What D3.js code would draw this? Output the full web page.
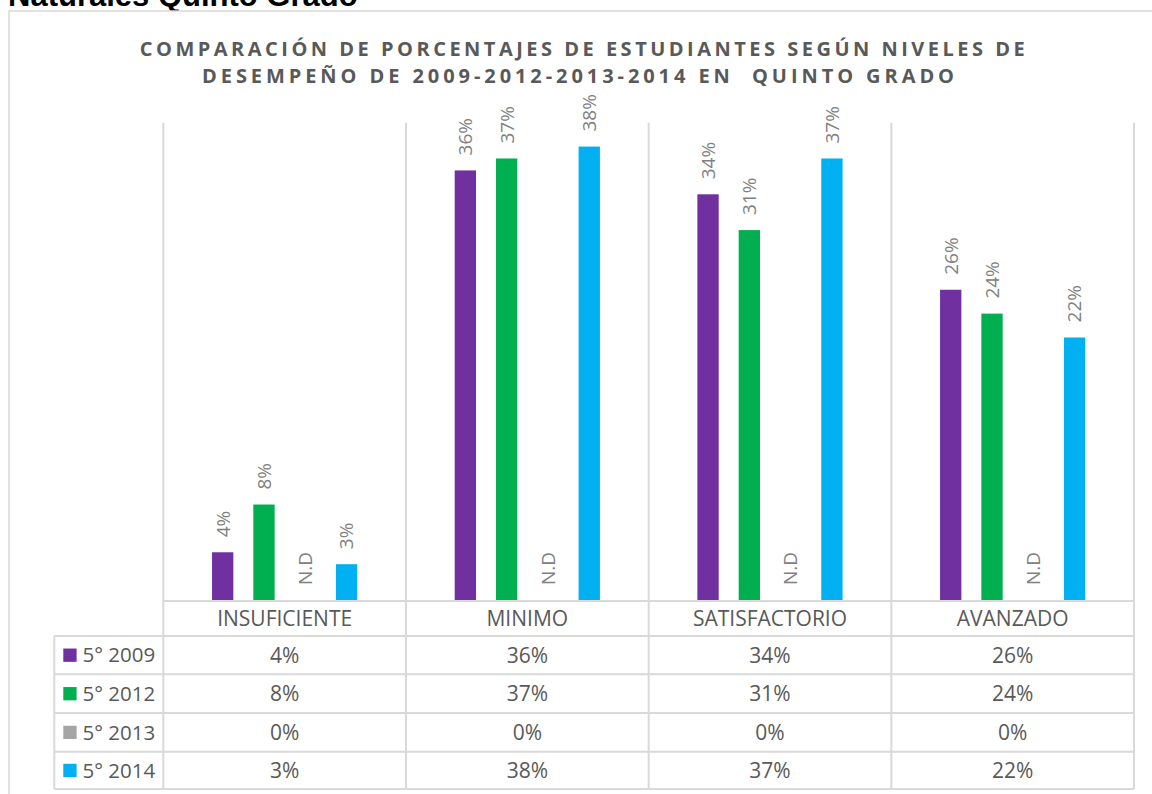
<!DOCTYPE html>
<html>
<head>
<meta charset="utf-8">
<script src="https://cdn.jsdelivr.net/npm/d3@7"></script>
<style>
  body { margin: 0; background: #fff; }
  svg { display: block; }
  text { font-family: "Open Sans", sans-serif; }
</style>
</head>
<body>
<svg id="chart" width="1152" height="794"></svg>
<script>
const categories = ["INSUFICIENTE", "MINIMO", "SATISFACTORIO", "AVANZADO"];
const series = ["5° 2009", "5° 2012", "5° 2013", "5° 2014"];
const v2009 = [0.04, 0.36, 0.34, 0.26];
const v2012 = [0.08, 0.37, 0.31, 0.24];
const v2013 = [0, 0, 0, 0];
const v2014 = [0.03, 0.38, 0.37, 0.22];
const colors = ["#7030A0", "#00B050", "#A5A5A5", "#00B0F0"];
const titleLines = [
  "COMPARACIÓN DE PORCENTAJES DE ESTUDIANTES SEGÚN NIVELES DE",
  "DESEMPEÑO DE 2009-2012-2013-2014 EN  QUINTO GRADO"
];
const pageTitle = "Naturales Quinto Grado";

const values = [v2009, v2012, v2013, v2014];
const fmt = d3.format(".0%");
const grid = "#d9d9d9";

const svg = d3.select("#chart");

// heading cut off at the top of the page
svg.append("text")
  .attr("x", 8)
  .attr("y", 6)
  .style("font-family", "'Liberation Sans', Arial, sans-serif")
  .style("font-weight", "bold")
  .style("font-size", "31px")
  .attr("fill", "#000")
  .text(pageTitle);

// chart frame (continues past the right and bottom edges)
svg.append("rect")
  .attr("x", 9)
  .attr("y", 11)
  .attr("width", 1200)
  .attr("height", 850)
  .attr("fill", "#fff")
  .attr("stroke", grid)
  .attr("stroke-width", 1.5);

// title, each line spaced out to the reference width
const titleY = [56, 83];
const titleX = [584, 580];
const titleW = [885, 752];
titleLines.forEach((line, i) => {
  let t = svg.append("text")
    .attr("x", titleX[i])
    .attr("y", titleY[i])
    .attr("text-anchor", "middle")
    .style("font-weight", "bold")
    .style("font-size", "20px")
    .style("white-space", "pre")
    .attr("fill", "#595959")
    .text(line);
  let w = t.node().getComputedTextLength();
  t.style("letter-spacing", ((titleW[i] - w) / (line.length - 1)) + "px");
});

// scales
const plotTop = 122.7, plotBottom = 600;
const tableLeft = 54.3, tableBottom = 789;
const rowLines = [601, 636, 674.3, 713, 751.7, 789];

const x0 = d3.scaleBand()
  .domain(categories)
  .range([163.3, 1134]);

const x1 = d3.scaleBand()
  .domain(series)
  .range([0, x0.bandwidth()])
  .paddingInner(0.484)
  .paddingOuter(1.18);

const y = d3.scaleLinear()
  .domain([0, 0.40])
  .range([plotBottom, plotTop]);

// vertical gridlines through the plot and the table
const bounds = categories.map(c => x0(c)).concat([x0.range()[1]]);
svg.append("g")
  .selectAll("line")
  .data(bounds)
  .enter()
  .append("line")
  .attr("x1", d => d)
  .attr("x2", d => d)
  .attr("y1", plotTop)
  .attr("y2", tableBottom)
  .attr("stroke", grid)
  .attr("stroke-width", 2);

svg.append("line")
  .attr("x1", tableLeft)
  .attr("x2", tableLeft)
  .attr("y1", rowLines[1])
  .attr("y2", tableBottom)
  .attr("stroke", grid)
  .attr("stroke-width", 2);

svg.append("g")
  .selectAll("line")
  .data(rowLines)
  .enter()
  .append("line")
  .attr("x1", (d, i) => i == 0 ? x0.range()[0] : tableLeft)
  .attr("x2", x0.range()[1])
  .attr("y1", d => d)
  .attr("y2", d => d)
  .attr("stroke", grid)
  .attr("stroke-width", 2);

// bars
const bars = [];
for (let s = 0; s < series.length; s++) {
  for (let c = 0; c < categories.length; c++) {
    bars.push({ series: series[s], category: categories[c], value: values[s][c], color: colors[s] });
  }
}

svg.append("g")
  .selectAll("rect")
  .data(bars)
  .enter()
  .append("rect")
  .attr("x", d => x0(d.category) + x1(d.series))
  .attr("y", d => y(d.value))
  .attr("width", x1.bandwidth())
  .attr("height", d => y(0) - y(d.value))
  .attr("fill", d => d.color);

// rotated value labels, N.D where there is no data
svg.append("g")
  .selectAll("text")
  .data(bars)
  .enter()
  .append("text")
  .attr("transform", d => {
    let cx = x0(d.category) + x1(d.series) + x1.bandwidth() / 2;
    let cy = y(d.value) - 15;
    return "translate(" + cx + "," + cy + ") rotate(-90)";
  })
  .attr("dy", "0.36em")
  .attr("text-anchor", "start")
  .style("font-size", "19px")
  .attr("fill", "#808080")
  .text(d => d.value === 0 ? "N.D" : fmt(d.value));

// data table: header row
const rowMid = i => (rowLines[i] + rowLines[i + 1]) / 2;
svg.append("g")
  .selectAll("text")
  .data(categories)
  .enter()
  .append("text")
  .attr("x", d => x0(d) + x0.bandwidth() / 2)
  .attr("y", rowMid(0) + 7.5)
  .attr("text-anchor", "middle")
  .style("font-size", "21px")
  .attr("fill", "#595959")
  .text(d => d);

// data table: one row per series
const rows = svg.append("g")
  .selectAll("g")
  .data(series)
  .enter()
  .append("g");

rows.append("rect")
  .attr("x", 63.3)
  .attr("y", (d, i) => rowMid(i + 1) - 6.6)
  .attr("width", 13.3)
  .attr("height", 13.3)
  .attr("fill", (d, i) => colors[i]);

rows.append("text")
  .attr("x", 82.5)
  .attr("y", (d, i) => rowMid(i + 1) + 7.3)
  .style("font-size", "20.5px")
  .attr("fill", "#595959")
  .text(d => d);

rows.each(function(s, i) {
  d3.select(this)
    .selectAll("text.cell")
    .data(values[i])
    .enter()
    .append("text")
    .attr("class", "cell")
    .attr("x", (d, j) => x0(categories[j]) + x0.bandwidth() / 2)
    .attr("y", rowMid(i + 1) + 7.5)
    .attr("text-anchor", "middle")
    .style("font-size", "21px")
    .attr("fill", "#595959")
    .text(d => fmt(d));
});
</script>
</body>
</html>
